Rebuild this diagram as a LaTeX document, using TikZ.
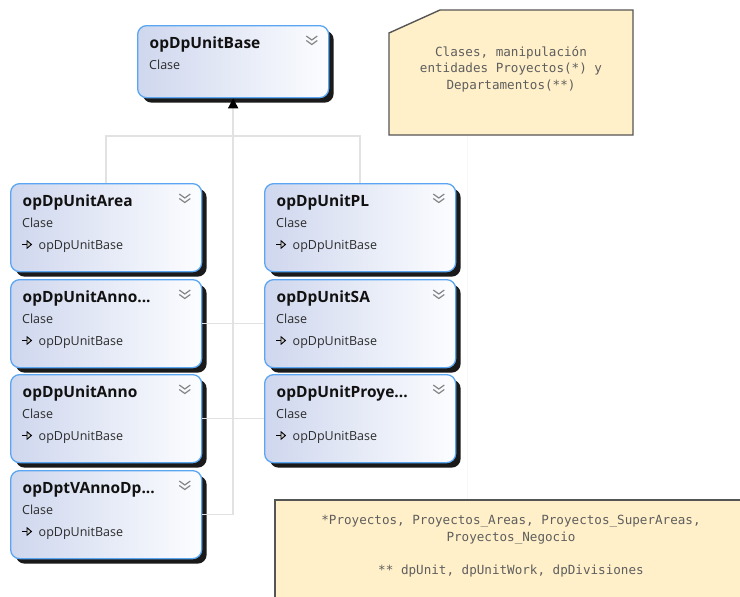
\documentclass[tikz,border=0pt]{standalone}
\usepackage{fontspec}
\setmainfont{Open Sans}
\newfontfamily\notefont{DejaVu Sans Mono}
\usetikzlibrary{shadows,calc,arrows.meta}

\definecolor{boxleft}{HTML}{CFD7EE}
\definecolor{boxright}{HTML}{FCFDFF}
\definecolor{boxedge}{HTML}{5AA6F2}
\definecolor{shadowcol}{HTML}{1A1A1A}
\definecolor{wire}{HTML}{E2E2E2}
\definecolor{notefill}{HTML}{FFF0C9}
\definecolor{noteedge}{HTML}{555555}
\definecolor{notetext}{HTML}{5E5E5E}
\definecolor{chevcol}{HTML}{858585}
\definecolor{titlecol}{HTML}{111111}
\definecolor{subcol}{HTML}{2B2B2B}

\tikzset{
  classbox/.style={rectangle, rounded corners=9pt, draw=boxedge, line width=1.3pt,
    left color=boxleft, right color=boxright,
    minimum width=191pt, minimum height=88pt, inner sep=0pt, anchor=north west,
    drop shadow={shadow xshift=5pt, shadow yshift=-5pt, fill=shadowcol, opacity=1}},
  classtitle/.style={anchor=base west, inner sep=0pt, text=titlecol,
    font=\fontsize{15.5}{18}\selectfont\bfseries},
  classsub/.style={anchor=base west, inner sep=0pt, text=subcol,
    font=\fontsize{12.5}{15}\selectfont},
  chevron/.style={draw=chevcol, line width=1.2pt, line join=miter},
  geniconline/.style={draw=black, line width=0.9pt},
  wireline/.style={draw=wire, line width=1.5pt},
  notebox/.style={fill=notefill, draw=noteedge, line width=1.4pt},
  notetxt/.style={align=center, inner sep=0pt, text=notetext,
    font=\notefont\fontsize{12.6}{16.6}\selectfont},
}

% #1 name, #2 x, #3 y, #4 title, #5 extra box options, #6 parent (empty = none)
\newcommand\umlclass[6]{%
  \node[classbox,#5] (#1) at (#2,#3) {};
  \node[classtitle] (#1-title) at ($(#1.north west)+(12.5,23.5)$) {#4};
  \node[classsub] (#1-kind) at ($(#1.north west)+(12,44.5)$) {Clase};
  \draw[chevron] ($(#1.north east)+(-23,11)$) -- ++(5.5,4) -- ++(5.5,-4);
  \draw[chevron] ($(#1.north east)+(-23,15.5)$) -- ++(5.5,4) -- ++(5.5,-4);
  \if\relax\detokenize{#6}\relax\else
    \draw[geniconline] ($(#1.north west)+(12,61.5)$) -- ++(5,0);
    \draw[geniconline, fill=black!20, line join=miter]
      ($(#1.north west)+(17,57.8)$) -- ++(4.5,3.7) -- ++(-4.5,3.7) -- cycle;
    \node[classsub] (#1-parent) at ($(#1.north west)+(28.5,66)$) {#6};
  \fi
}

\begin{document}
\begin{tikzpicture}[x=1pt,y=-1pt]
\useasboundingbox (0,0) rectangle (740,597);
\clip (0,0) rectangle (740,597);
\fill[white] (0,0) rectangle (740,597);

% faint canvas seam
\draw[black!3, line width=1pt] (467,135) -- (467,500);

% top note with cut corner
\draw[notebox] (389,33) -- (440,10) -- (633,10) -- (633,135) -- (389,135) -- cycle;
\node[notetxt] (note1) at (511,69) {Clases, manipulación\\entidades Proyectos(*) y\\Departamentos(**)};

% bottom note
\draw[notebox] (275,500) rectangle (760,620);
\node[notetxt] (note2) at (511,546) {*Proyectos, Proyectos\_Areas, Proyectos\_SuperAreas,\\Proyectos\_Negocio\\[16.6pt]** dpUnit, dpUnitWork, dpDivisiones};

% classes
\umlclass{base}{137}{25}{opDpUnitBase}{minimum height=72pt}{}
\umlclass{area}{10}{183}{opDpUnitArea}{}{opDpUnitBase}
\umlclass{annox}{10}{279}{opDpUnitAnno...}{}{opDpUnitBase}
\umlclass{anno}{10}{374}{opDpUnitAnno}{}{opDpUnitBase}
\umlclass{dpt}{10}{470}{opDptVAnnoDp...}{}{opDpUnitBase}
\umlclass{pl}{264}{183}{opDpUnitPL}{}{opDpUnitBase}
\umlclass{sa}{264}{279}{opDpUnitSA}{}{opDpUnitBase}
\umlclass{proye}{264}{374}{opDpUnitProye...}{}{opDpUnitBase}

% inheritance connectors
\coordinate (split) at ($(base.south |- 0,136)$);
\coordinate (trunkend) at (base.south |- dpt.east);
\draw[wireline] (area.north) |- (split) -| (pl.north);
\draw[wireline] (annox.east) -- (sa.west);
\draw[wireline] (anno.east) -- (proye.west);
\draw[wireline] (dpt.east) -- (trunkend);
\draw[wireline, -{Triangle[width=10pt,length=10pt,color=black]}] (trunkend) -- (base.south);
\end{tikzpicture}
\end{document}
